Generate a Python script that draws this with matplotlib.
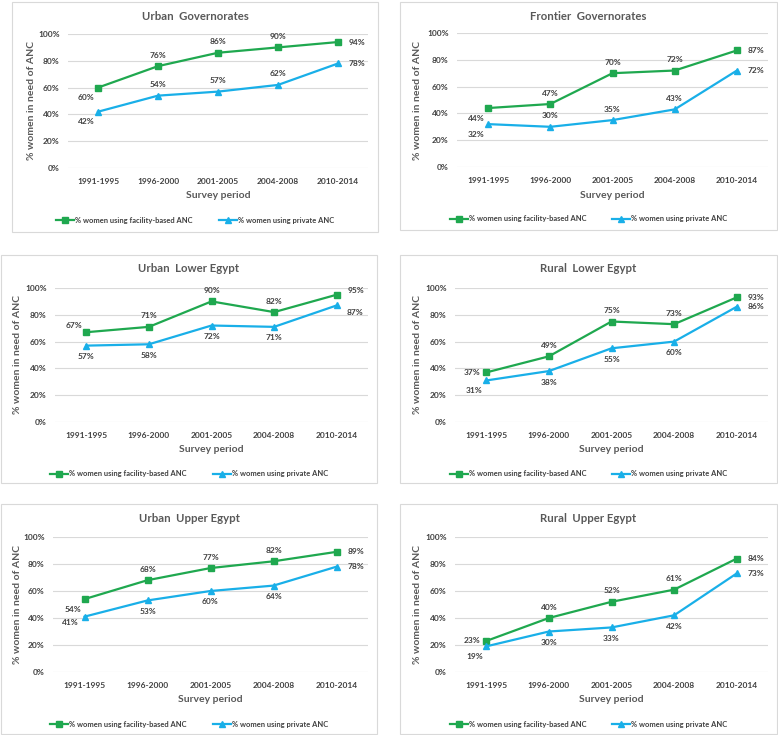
import matplotlib
matplotlib.use("Agg")
import matplotlib.pyplot as plt
from matplotlib.patches import Rectangle
from matplotlib.lines import Line2D

W, H, DPI = 778, 735, 100

periods = ["1991-1995", "1996-2000", "2001-2005", "2004-2008", "2010-2014"]

titles = ["Urban  Governorates", "Frontier  Governorates", "Urban  Lower Egypt",
          "Rural  Lower Egypt", "Urban  Upper Egypt", "Rural  Upper Egypt"]

facility_urban_gov = [60, 76, 86, 90, 94]
private_urban_gov = [42, 54, 57, 62, 78]
facility_frontier = [44, 47, 70, 72, 87]
private_frontier = [32, 30, 35, 43, 72]
facility_urban_lower = [67, 71, 90, 82, 95]
private_urban_lower = [57, 58, 72, 71, 87]
facility_rural_lower = [37, 49, 75, 73, 93]
private_rural_lower = [31, 38, 55, 60, 86]
facility_urban_upper = [54, 68, 77, 82, 89]
private_urban_upper = [41, 53, 60, 64, 78]
facility_rural_upper = [23, 40, 52, 61, 84]
private_rural_upper = [19, 30, 33, 42, 73]

facility = [facility_urban_gov, facility_frontier, facility_urban_lower,
            facility_rural_lower, facility_urban_upper, facility_rural_upper]
private = [private_urban_gov, private_frontier, private_urban_lower,
           private_rural_lower, private_urban_upper, private_rural_upper]

# label placement per point: a=above, b=below, r=right, l=left, bl=below-left, ar=above-right, br=below-right
fac_pos = [["bl", "a", "a", "a", "r"],
           ["bl", "a", "a", "a", "r"],
           ["al", "a", "a", "a", "ar"],
           ["l", "a", "a", "a", "r"],
           ["bl", "a", "a", "a", "r"],
           ["l", "a", "a", "a", "r"]]
priv_pos = [["bl", "a", "a", "a", "r"],
            ["bl", "a", "a", "a", "r"],
            ["b", "b", "b", "b", "br"],
            ["bl", "b", "b", "b", "r"],
            ["lb", "b", "b", "b", "r"],
            ["bl", "b", "b", "b", "r"]]

OFFS = {"a": (0, 11), "b": (0, -11), "r": (19, 0), "l": (-14, 0),
        "bl": (-12, -10), "al": (-12, 7), "ar": (19, 4), "br": (18, -7),
        "lb": (-14, -6)}

# pixel layouts: axes (x0, x1, ytop, ybottom), box (x0, x1, ytop, ybottom)
axes_px = [(68, 368, 34, 168), (457, 768, 33, 167),
           (55, 368, 288, 422), (455, 768, 288, 422),
           (53, 368, 537, 672), (455, 768, 537, 672)]
box_px = [(12, 378, 2, 232), (400, 777, 2, 230),
          (1, 377, 255, 483), (400, 777, 255, 483),
          (1, 377, 504, 734), (400, 777, 504, 734)]
ylab_x = [31, 418, 18, 418, 18, 418]

GREEN = "#1FA84F"
BLUE = "#19AFE8"
TXT = "#404040"
FONT = "Lato"

plt.rcParams["font.family"] = [FONT, "DejaVu Sans"]


def fx(px):
    return px / W


def fy(py):
    return 1 - py / H


def draw_panel(fig, i):
    bx0, bx1, bt, bb = box_px[i]
    fig.patches.append(Rectangle((fx(bx0), fy(bb)), fx(bx1 - bx0), (bb - bt) / H,
                                 transform=fig.transFigure, fill=False,
                                 edgecolor="#d9d9d9", lw=0.8))
    x0, x1, t, b = axes_px[i]
    ax = fig.add_axes([fx(x0), fy(b), fx(x1 - x0), (b - t) / H])
    xs = list(range(len(periods)))
    ax.plot(xs, facility[i], color=GREEN, lw=1.6, marker="s", ms=4.5)
    ax.plot(xs, private[i], color=BLUE, lw=1.6, marker="^", ms=4.5)
    for series, pos in ((facility[i], fac_pos[i]), (private[i], priv_pos[i])):
        for x, v, p in zip(xs, series, pos):
            dx, dy = OFFS[p]
            ax.annotate(f"{v}%", (x, v), xytext=(dx * 0.72, dy * 0.72),
                        textcoords="offset points", ha="center", va="center",
                        fontsize=6, fontweight="bold", color=TXT)
    ax.set_xlim(-0.5, len(periods) - 0.5)
    ax.set_ylim(0, 100)
    ax.set_yticks(range(0, 101, 20))
    ax.set_yticklabels([f"{v}%" for v in range(0, 101, 20)])
    ax.set_xticks(xs)
    ax.set_xticklabels(periods)
    ax.tick_params(length=0, labelsize=6, labelcolor=TXT)
    ax.tick_params(axis="y", pad=6)
    ax.tick_params(axis="x", pad=7)
    for lbl in ax.get_xticklabels() + ax.get_yticklabels():
        lbl.set_fontweight("bold")
    for s in ax.spines.values():
        s.set_visible(False)
    ax.grid(axis="y", color="#d9d9d9", lw=0.8)
    ax.set_axisbelow(True)

    cx_box = (bx0 + bx1) / 2
    cx_ax = (x0 + x1) / 2
    fig.text(fx(cx_box), fy(bt + 14), titles[i], ha="center", va="center",
             fontsize=8.2, fontweight="bold", color="#595959")
    fig.text(fx(cx_ax), fy(b + 28), "Survey period", ha="center", va="center",
             fontsize=7.5, fontweight="bold", color="#595959")
    fig.text(fx(ylab_x[i]), fy((t + b) / 2), "% women in need of ANC", ha="center",
             va="center", rotation=90, fontsize=7.5, fontweight="bold", color="#595959")
    handles = [Line2D([], [], color=GREEN, lw=1.6, marker="s", ms=4),
               Line2D([], [], color=BLUE, lw=1.6, marker="^", ms=4)]
    fig.legend(handles, ["% women using facility-based ANC", "% women using private ANC"],
               loc="center", bbox_to_anchor=(fx(cx_box), fy(b + 52)), ncol=2,
               frameon=False, prop={"size": 5.4, "weight": "bold"}, labelcolor=TXT,
               handlelength=2.4, handletextpad=0.1, columnspacing=3.5)


def main():
    fig = plt.figure(figsize=(W / DPI, H / DPI), dpi=DPI)
    for i in range(len(titles)):
        draw_panel(fig, i)
    fig.savefig("out.png", dpi=DPI, facecolor="white")
    plt.close(fig)


if __name__ == "__main__":
    main()
